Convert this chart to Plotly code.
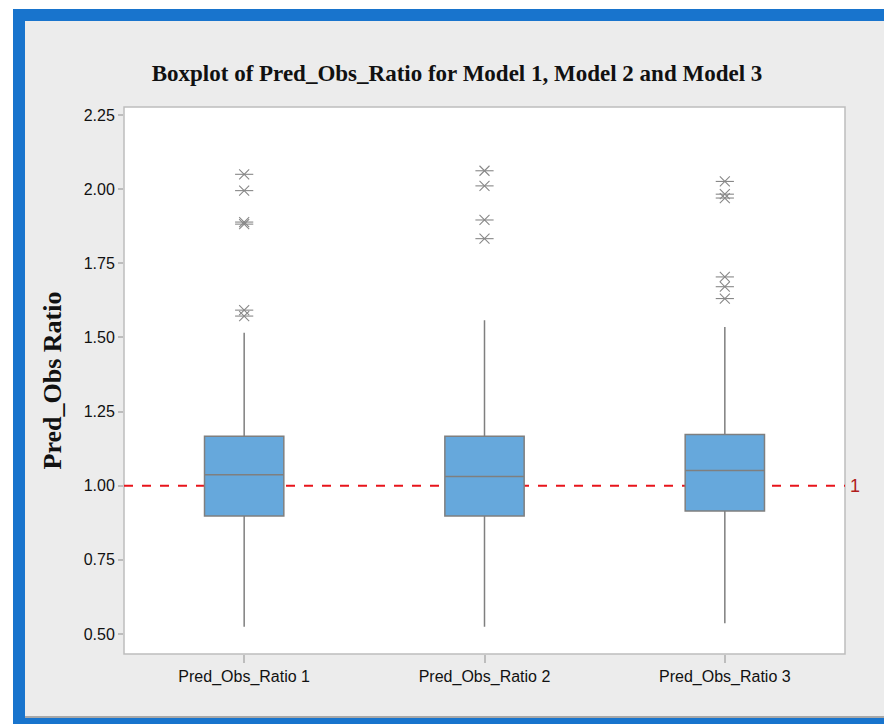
import plotly.graph_objects as go

categories = ["Pred_Obs_Ratio 1", "Pred_Obs_Ratio 2", "Pred_Obs_Ratio 3"]
q1 = [0.898, 0.898, 0.915]
median = [1.037, 1.031, 1.051]
q3 = [1.167, 1.167, 1.173]
lower_whisker = [0.524, 0.524, 0.536]
upper_whisker = [1.516, 1.558, 1.535]
outliers = [
    [2.050, 1.995, 1.889, 1.882, 1.592, 1.572],
    [2.062, 2.011, 1.896, 1.833],
    [2.026, 1.983, 1.970, 1.704, 1.671, 1.631],
]
reference_value = 1.0
y_ticks = [0.50, 0.75, 1.00, 1.25, 1.50, 1.75, 2.00, 2.25]

# page has an 8px body margin; figure is placed at (8, 8)
OFF = 8
W, H = 884, 716
L, R, T, B = 116, 47, 99, 70
pw, ph = W - L - R, H - T - B


def px(x_page):
    return (x_page - OFF - L) / pw


def py(y_page):
    return (H - B - (y_page - OFF)) / ph


fig = go.Figure()

# frame: blue border + light gray panel + white plot area (drawn first)
fig.add_shape(type="rect", xref="paper", yref="paper", layer="below",
              x0=px(13), x1=px(900), y0=py(9), y1=py(740),
              fillcolor="#1874CD", line=dict(width=0))
fig.add_shape(type="rect", xref="paper", yref="paper", layer="below",
              x0=px(25), x1=px(888), y0=py(21), y1=py(718),
              fillcolor="#A8A8A8", line=dict(width=0))
fig.add_shape(type="rect", xref="paper", yref="paper", layer="below",
              x0=px(25), x1=px(886), y0=py(21), y1=py(716),
              fillcolor="#ECECEC", line=dict(width=0))
fig.add_shape(type="rect", xref="paper", yref="paper", layer="below",
              x0=0, x1=1, y0=0, y1=1,
              fillcolor="white", line=dict(color="#BDBDBD", width=1.5))

# reference line
fig.add_shape(type="line", xref="paper", yref="y", x0=0, x1=1,
              y0=reference_value, y1=reference_value,
              line=dict(color="#E8141B", width=2, dash="dash"), layer="below")
fig.add_annotation(xref="paper", yref="y", x=1.004, y=reference_value,
                   text="1", showarrow=False, xanchor="left",
                   font=dict(family="Liberation Sans, Arial", size=18, color="#B01C1C"))

fig.add_trace(go.Box(
    x=categories,
    q1=q1, median=median, q3=q3,
    lowerfence=lower_whisker, upperfence=upper_whisker,
    width=0.33,
    fillcolor="#66A8DC",
    line=dict(color="#7F7F7F", width=1.5),
    whiskerwidth=0,
    boxpoints=False,
    showlegend=False,
))

ox, oy = [], []
for c, vals in zip(categories, outliers):
    for v in vals:
        ox.append(c)
        oy.append(v)

for sym in ["x-thin-open", "line-ew-open"]:
    fig.add_trace(go.Scatter(
        x=ox, y=oy, mode="markers",
        marker=dict(symbol=sym, size=10 if sym == "x-thin-open" else 13,
                    color="#888888", line=dict(color="#888888", width=1.1)),
        showlegend=False, hoverinfo="y",
    ))

fig.update_layout(
    width=W, height=H,
    margin=dict(l=L, r=R, t=T, b=B),
    paper_bgcolor="white",
    plot_bgcolor="rgba(0,0,0,0)",
    title=dict(
        text="<b>Boxplot of Pred_Obs_Ratio for Model 1, Model 2 and Model 3</b>",
        x=(457 - OFF) / W, xanchor="center", y=1 - (73 - OFF) / H, yanchor="middle",
        font=dict(family="Liberation Serif, Times New Roman", size=23, color="#111111"),
    ),
    xaxis=dict(
        type="category", range=[-0.5, 2.5],
        showgrid=False, zeroline=False, showline=False,
        ticks="outside", ticklen=8, tickcolor="#BDBDBD", tickwidth=1.5,
        tickfont=dict(family="Liberation Sans, Arial", size=16, color="#111111"),
        fixedrange=True,
    ),
    yaxis=dict(
        range=[0.4324, 2.277],
        tickvals=y_ticks, ticktext=[f"{v:.2f}" for v in y_ticks],
        showgrid=False, zeroline=False, showline=False,
        ticks="outside", ticklen=5, tickcolor="#BDBDBD", tickwidth=1.5,
        tickfont=dict(family="Liberation Sans, Arial", size=16, color="#111111"),
        title=dict(text="<b>Pred_Obs Ratio</b>", standoff=14,
                   font=dict(family="Liberation Serif, Times New Roman", size=26, color="#111111")),
    ),
)

fig.write_html("out.html")
